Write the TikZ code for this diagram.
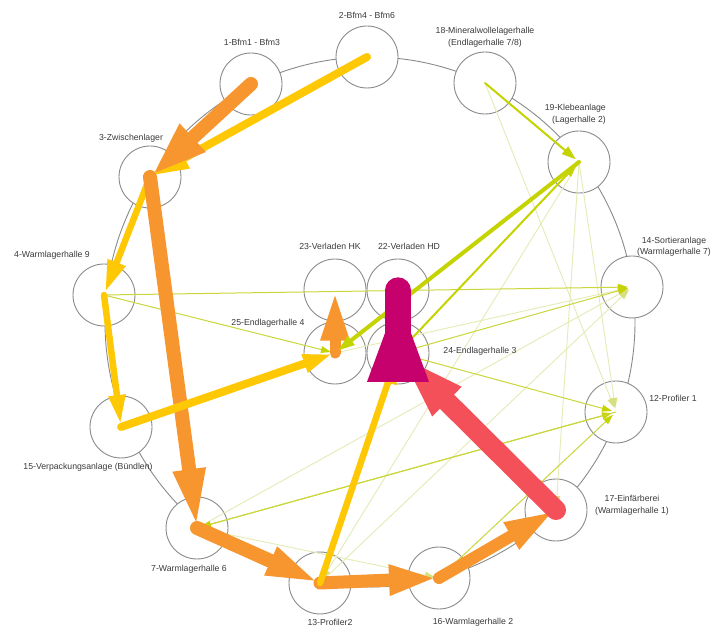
\documentclass[tikz,border=0pt]{standalone}
\usepackage{fontspec}
\setmainfont{Liberation Sans}
\usetikzlibrary{calc}

\definecolor{ringGray}{HTML}{8A8A8A}
\definecolor{labelGray}{HTML}{3A3A3A}
\definecolor{flowOrange}{HTML}{F7962F}
\definecolor{flowYellow}{HTML}{FFC805}
\definecolor{flowLime}{HTML}{C5D300}
\definecolor{limeThin}{HTML}{CAD63A}
\definecolor{limeFaint}{HTML}{E5EBB6}
\definecolor{limeFaintHead}{HTML}{D6E07E}
\definecolor{flowRed}{HTML}{F4505A}
\definecolor{flowMagenta}{HTML}{C6006C}

% \flowarrow[line end as fraction of head length]{line colour}{head colour}
%           {line width}{head length}{head width}{from}{to}
% The line runs from the centre of the source station towards the target,
% a triangular head ends just short of the target centre.
\newcommand\flowarrow[8][0.7]{%
  \pgfmathsetmacro\fatipoff{4+0.15*#4}%
  \pgfmathsetmacro\falineend{\fatipoff+#1*#5}%
  \coordinate (fa-end) at ($(#8.center)!\falineend pt!(#7.center)$);
  \coordinate (fa-tip) at ($(#8.center)!\fatipoff pt!(#7.center)$);
  \coordinate (fa-base) at ($(#8.center)!\fatipoff pt+#5pt!(#7.center)$);
  \draw[draw=#2, line width=#4pt, line cap=round] (#7.center) -- (fa-end);
  \fill[fill=#3] (fa-tip) -- ($(fa-base)!#6pt/2!90:(fa-tip)$)
                 -- ($(fa-base)!#6pt/2!-90:(fa-tip)$) -- cycle;
}

\begin{document}
\begin{tikzpicture}[x=1pt,y=-1pt,
  station/.style={circle, draw=ringGray, fill=white, line width=0.9pt,
                  minimum size=62pt, inner sep=0pt},
  tag/.style={text=labelGray, font=\fontsize{8.7}{11.5}\selectfont,
              inner sep=0pt, align=center},
]
\useasboundingbox (0,0) rectangle (713,628);
\fill[white] (0,0) rectangle (713,628);

% ring through the outer stations
\draw[ringGray, line width=0.9pt] (370,322) circle[radius=265pt];

% stations
\node[station] (n2)  at (367,57)  {};
\node[station] (n18) at (485,83)  {};
\node[station] (n19) at (579,162) {};
\node[station] (n14) at (632,287) {};
\node[station] (n12) at (616,412) {};
\node[station] (n17) at (556,510) {};
\node[station] (n16) at (439,578) {};
\node[station] (n13) at (320,583) {};
\node[station] (n7)  at (197,528) {};
\node[station] (n15) at (121,427) {};
\node[station] (n4)  at (104,295) {};
\node[station] (n3)  at (150,177) {};
\node[station] (n1)  at (251,84)  {};
\node[station] (n23) at (335,290) {};
\node[station] (n22) at (398,290) {};
\node[station] (n25) at (335,353) {};
\node[station] (n24) at (398,353) {};

% faint flows
\flowarrow{limeFaint}{limeFaintHead}{0.9}{10}{7}{n18}{n12}
\flowarrow{limeFaint}{limeFaintHead}{0.9}{10}{7}{n19}{n12}
\flowarrow{limeFaint}{limeFaintHead}{0.9}{10}{7}{n19}{n17}
\flowarrow{limeFaint}{limeFaintHead}{0.9}{10}{7}{n19}{n13}
\flowarrow{limeFaint}{limeFaintHead}{0.9}{10}{7}{n7}{n14}
\flowarrow{limeFaint}{limeFaintHead}{0.9}{10}{7}{n7}{n16}
\flowarrow{limeFaint}{limeFaintHead}{0.9}{10}{7}{n25}{n14}
\flowarrow{limeFaint}{limeFaintHead}{0.9}{10}{7}{n13}{n14}

% thin flows
\flowarrow{limeThin}{flowLime}{1}{10}{7}{n4}{n25}
\flowarrow{limeThin}{flowLime}{1}{10}{7}{n4}{n14}
\flowarrow{limeThin}{flowLime}{1}{10}{7}{n24}{n12}
\flowarrow{limeThin}{flowLime}{1}{10}{7}{n24}{n14}
\flowarrow{limeThin}{flowLime}{1}{10}{7}{n7}{n12}
\flowarrow{limeThin}{flowLime}{1}{10}{7}{n12}{n7}
\flowarrow{limeThin}{flowLime}{1}{10}{7}{n16}{n12}
\flowarrow{flowLime}{flowLime}{2}{14}{10}{n18}{n19}
\flowarrow{flowLime}{flowLime}{2}{12}{9}{n24}{n19}

% main flows
\flowarrow{flowYellow}{flowYellow}{8}{34}{24}{n2}{n3}
\flowarrow{flowOrange}{flowOrange}{14}{52}{39}{n1}{n3}
\flowarrow{flowYellow}{flowYellow}{6.5}{30}{20}{n3}{n4}
\flowarrow{flowYellow}{flowYellow}{6.5}{27}{18}{n4}{n15}
\flowarrow{flowOrange}{flowOrange}{14}{53}{34}{n3}{n7}
\flowarrow{flowYellow}{flowYellow}{8}{27}{20}{n15}{n25}
\flowarrow{flowOrange}{flowOrange}{11}{45}{30}{n25}{n23}
\flowarrow{flowLime}{flowLime}{4}{16}{12}{n19}{n25}
\flowarrow{flowOrange}{flowOrange}{14}{48}{32}{n7}{n13}
\flowarrow{flowOrange}{flowOrange}{13}{44}{32}{n13}{n16}
\flowarrow{flowOrange}{flowOrange}{12}{46}{32}{n16}{n17}
\flowarrow{flowYellow}{flowYellow}{6.5}{26}{18}{n13}{n24}
\flowarrow{flowRed}{flowRed}{20}{62}{42}{n17}{n24}
\flowarrow[-0.09]{flowMagenta}{flowMagenta}{26}{84}{62}{n24}{n22}

% station names
\node[tag] (t1)  at (252,42)    {1-Bfm1 - Bfm3};
\node[tag] (t2)  at (367,15)    {2-Bfm4 - Bfm6};
\node[tag] (t18) at (485,37.5)  {18-Mineralwollelagerhalle\\(Endlagerhalle 7/8)};
\node[tag, align=right, anchor=east] (t19) at (606,114.5) {19-Klebeanlage\\(Lagerhalle 2)};
\node[tag] (t14) at (674,247)   {14-Sortieranlage\\(Warmlagerhalle 7)};
\node[tag] (t12) at (673,398)   {12-Profiler 1};
\node[tag] (t17) at (632,505.5) {17-Einfärberei\\(Warmlagerhalle 1)};
\node[tag] (t16) at (473,622)   {16-Warmlagerhalle 2};
\node[tag] (t13) at (330,622)   {13-Profiler2};
\node[tag] (t7)  at (189,569)   {7-Warmlagerhalle 6};
\node[tag] (t15) at (88,467)    {15-Verpackungsanlage (Bündlen)};
\node[tag] (t4)  at (52,255)    {4-Warmlagerhalle 9};
\node[tag] (t3)  at (131,138)   {3-Zwischenlager};
\node[tag] (t23) at (330,246)   {23-Verladen HK};
\node[tag] (t22) at (409,246)   {22-Verladen HD};
\node[tag] (t25) at (268,323)   {25-Endlagerhalle 4};
\node[tag] (t24) at (480,351)   {24-Endlagerhalle 3};
\end{tikzpicture}
\end{document}
